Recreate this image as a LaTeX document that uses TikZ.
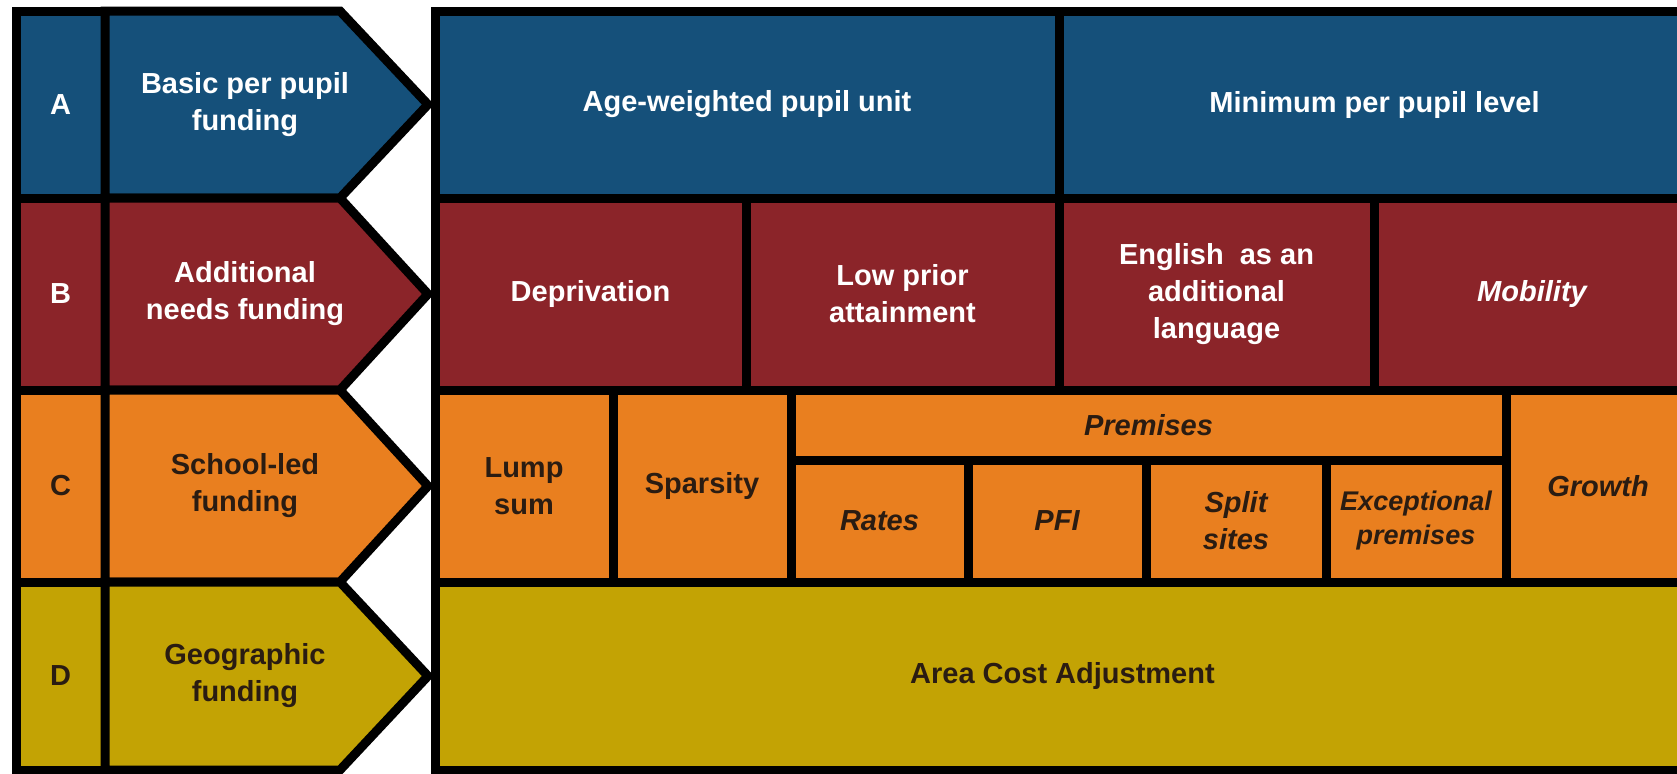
\documentclass[tikz,border=0pt]{standalone}
\usepackage{fontspec}
\setmainfont{Liberation Sans}
\usepackage{tikz}

\definecolor{fundblue}{HTML}{15507A}
\definecolor{fundred}{HTML}{8B2429}
\definecolor{fundorange}{HTML}{E97F1F}
\definecolor{fundgold}{HTML}{C3A304}
\definecolor{darktext}{HTML}{2A1C12}

\begin{document}
\begin{tikzpicture}[x=0.5pt, y=-0.5pt,
  box/.style={draw=black, line width=4.5pt, line join=miter},
  boxA/.style={box, fill=fundblue},
  boxB/.style={box, fill=fundred},
  boxC/.style={box, fill=fundorange},
  boxD/.style={box, fill=fundgold},
  lbl/.style={align=center, inner sep=0pt, font=\fontsize{14.5}{18.5}\selectfont\bfseries},
  lblW/.style={lbl, text=white},
  lblD/.style={lbl, text=darktext},
  lblWi/.style={lblW, font=\fontsize{14.5}{18.5}\selectfont\bfseries\itshape},
  lblDi/.style={lblD, font=\fontsize{14.5}{18.5}\selectfont\bfseries\itshape}]
\useasboundingbox (0, 0) rectangle (1677, 773);
\fill[white] (0, 0) rectangle (1677, 773);
\clip (0, 0) rectangle (1677, 773);
% A: basic per pupil
\draw[boxA] (16, 11) rectangle node[lblW] (letA) {A} (105, 198);
\draw[boxA] (105, 11) -- (340, 11) -- (428, 104.5) -- (340, 198) -- (105, 198) -- cycle;
\node[lblW] (basic) at (245, 104.5) {Basic per pupil\\funding};
\draw[boxA] (435, 11) rectangle node[lblW] (ageunit) {Age-weighted pupil unit} (1059, 198);
\draw[boxA] (1059, 11) rectangle node[lblW] (minlevel) {Minimum per pupil level} (1690, 198);
% B: additional needs
\draw[boxB] (16, 198) rectangle node[lblW] (letB) {B} (105, 390);
\draw[boxB] (105, 198) -- (340, 198) -- (428, 294) -- (340, 390) -- (105, 390) -- cycle;
\node[lblW] (addneeds) at (245, 294) {Additional\\needs funding};
\draw[boxB] (435, 198) rectangle node[lblW] (depriv) {Deprivation} (746, 390);
\draw[boxB] (746, 198) rectangle node[lblW] (lowprior) {Low prior\\attainment} (1059, 390);
\draw[boxB] (1059, 198) rectangle node[lblW] (eal) {English\ \ as an\\additional\\language} (1374, 390);
\draw[boxB] (1374, 198) rectangle node[lblWi] (mobility) {Mobility} (1690, 390);
% C: school-led
\draw[boxC] (16, 390) rectangle node[lblD] (letC) {C} (105, 582);
\draw[boxC] (105, 390) -- (340, 390) -- (428, 486) -- (340, 582) -- (105, 582) -- cycle;
\node[lblD] (schoolled) at (245, 486) {School-led\\funding};
\draw[boxC] (435, 390) rectangle node[lblD] (lumpsum) {Lump\\sum} (613, 582);
\draw[boxC] (613, 390) rectangle node[lblD] (sparsity) {Sparsity} (791, 582);
\draw[boxC] (791, 390) rectangle node[lblDi] (premises) {Premises} (1506, 460);
\draw[boxC] (791, 460) rectangle node[lblDi] (rates) {Rates} (968, 582);
\draw[boxC] (968, 460) rectangle node[lblDi] (pfi) {PFI} (1146, 582);
\draw[boxC] (1146, 460) rectangle node[lblDi] (split) {Split\\sites} (1326, 582);
\draw[boxC] (1326, 460) rectangle node[lblDi, font=\fontsize{13.5}{17}\selectfont\bfseries\itshape] (exceptional) {Exceptional\\premises} (1506, 582);
\draw[boxC] (1506, 390) rectangle node[lblDi] (growth) {Growth} (1690, 582);
% D: geographic
\draw[boxD] (16, 582) rectangle node[lblD] (letD) {D} (105, 770);
\draw[boxD] (105, 582) -- (340, 582) -- (428, 676) -- (340, 770) -- (105, 770) -- cycle;
\node[lblD] (geographic) at (245, 676) {Geographic\\funding};
\draw[boxD] (435, 582) rectangle node[lblD] (acadj) {Area Cost Adjustment} (1690, 770);
\end{tikzpicture}
\end{document}
